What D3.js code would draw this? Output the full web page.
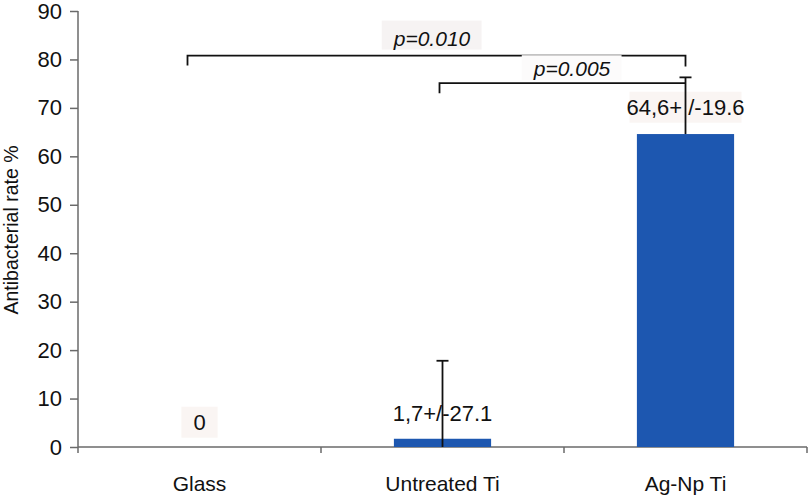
<!DOCTYPE html>
<html>
<head>
<meta charset="utf-8">
<script src="https://cdnjs.cloudflare.com/ajax/libs/d3/7.8.5/d3.min.js"></script>
<style>
  body { margin: 0; background: #fff; }
  text { font-family: "Liberation Sans", Arial, sans-serif; fill: #111; }
</style>
</head>
<body>
<svg id="chart" width="810" height="499"></svg>
<script>
// data
var categories = ["Glass", "Untreated Ti", "Ag-Np Ti"];
var values = [0, 1.7, 64.6];
var errDrawn = [0, 16.1, 11.7];           // upper whisker as drawn
var valueLabels = ["0", "1,7+/-27.1", "64,6+ /-19.6"];
var yTicks = [0, 10, 20, 30, 40, 50, 60, 70, 80, 90];
// significance brackets
var brackets = [
  {from: "Glass", to: "Ag-Np Ti", p: "p=0.010", level: 80.8},
  {from: "Untreated Ti", to: "Ag-Np Ti", p: "p=0.005", level: 75.1}
];

var svg = d3.select("#chart");
var margin = {top: 11, right: 3, bottom: 52, left: 78};
var width = +svg.attr("width") - margin.left - margin.right;
var height = +svg.attr("height") - margin.top - margin.bottom;

var x = d3.scaleBand().domain(categories).range([0, width]).paddingInner(0.6).paddingOuter(0.3);
var y = d3.scaleLinear().domain([0, 90]).range([height, 0]);
var cx = function(c) { return x(c) + x.bandwidth() / 2; };

var g = svg.append("g")
  .attr("transform", "translate(" + margin.left + "," + margin.top + ")");

var axisColor = "#6a6a6a";

// y axis
var yAxis = g.append("g").call(d3.axisLeft(y).tickValues(yTicks).tickSize(8).tickPadding(8));
yAxis.select(".domain").remove();
yAxis.selectAll(".tick line").attr("stroke", axisColor).attr("stroke-width", 1.5);
yAxis.selectAll(".tick text").style("font-size", "22px").attr("fill", "#111");
g.append("line")
  .attr("x1", 0).attr("x2", 0).attr("y1", y(90)).attr("y2", height + 6)
  .attr("stroke", axisColor).attr("stroke-width", 1.5);

// x axis, with ticks at category boundaries
g.append("line")
  .attr("x1", 0).attr("x2", width).attr("y1", height).attr("y2", height)
  .attr("stroke", axisColor).attr("stroke-width", 1.5);
var bandEnd = function(d) { return x(d) - x.step() * x.paddingOuter() + x.step(); };
g.selectAll(".xtick")
  .data(categories)
  .enter().append("line")
  .attr("class", "xtick")
  .attr("x1", bandEnd).attr("x2", bandEnd)
  .attr("y1", height).attr("y2", height + 6)
  .attr("stroke", axisColor).attr("stroke-width", 1.5);
g.selectAll(".cat")
  .data(categories)
  .enter().append("text")
  .attr("class", "cat")
  .attr("x", cx)
  .attr("y", height + 44)
  .attr("text-anchor", "middle")
  .style("font-size", "21px")
  .text(function(d) { return d; });

// y title
svg.append("text")
  .attr("transform", "translate(18," + 230 + ") rotate(-90)")
  .attr("text-anchor", "middle")
  .style("font-size", "19.5px")
  .text("Antibacterial rate %");

// value labels with light backgrounds
var labelY = [422, 413, 107];
var lbl = g.selectAll(".vlab")
  .data(categories)
  .enter().append("g")
  .attr("class", "vlab");
lbl.append("text")
  .attr("x", cx)
  .attr("y", function(d, i) { return labelY[i] - margin.top; })
  .attr("dy", "0.35em")
  .attr("text-anchor", "middle")
  .style("font-size", "22px")
  .text(function(d, i) { return valueLabels[i]; });
lbl.each(function(d, i) {
  if (i === 1) return;
  var sel = d3.select(this);
  var b = sel.select("text").node().getBBox();
  var px = i === 0 ? 12 : -3;
  sel.insert("rect", "text")
    .attr("x", b.x - px).attr("y", b.y - 3)
    .attr("width", b.width + 2 * px).attr("height", b.height + 6)
    .attr("fill", "#faf5f3");
});

// bars
g.selectAll(".bar")
  .data(categories)
  .enter().append("rect")
  .attr("class", "bar")
  .attr("x", function(d) { return x(d); })
  .attr("width", x.bandwidth())
  .attr("y", function(d, i) { return y(values[i]); })
  .attr("height", function(d, i) { return height - y(values[i]); })
  .attr("fill", "#1d57b0");

// error bars (upper only)
var errCats = categories.filter(function(d, i) { return errDrawn[i] > 0; });
var errTop = function(d) { var i = categories.indexOf(d); return y(values[i] + errDrawn[i]); };
var err = g.selectAll(".err")
  .data(errCats)
  .enter().append("g")
  .attr("class", "err");
err.append("line")
  .attr("x1", cx).attr("x2", cx)
  .attr("y1", function(d) { return d === "Untreated Ti" ? height : y(values[categories.indexOf(d)]); })
  .attr("y2", errTop)
  .attr("stroke", "#111").attr("stroke-width", 1.8);
err.append("line")
  .attr("x1", function(d) { return cx(d) - 6; })
  .attr("x2", function(d) { return cx(d) + 6; })
  .attr("y1", errTop).attr("y2", errTop)
  .attr("stroke", "#111").attr("stroke-width", 1.8);

// significance brackets
var labelX = [354, 494];
var leftShift = [12, 3];
var textGap = [10, 7];
brackets.forEach(function(b, k) {
  var x1 = cx(b.from) - leftShift[k], x2 = cx(b.to), yy = y(b.level);
  var path = "M" + x1 + "," + (yy + 10) + "V" + yy + "H" + x2;
  if (k === 0) path += "V" + (yy + 11);
  var t = g.append("text")
    .attr("x", labelX[k])
    .attr("y", yy - textGap[k])
    .attr("text-anchor", "middle")
    .style("font-size", "21px")
    .style("font-style", "italic")
    .text(b.p);
  var bb = t.node().getBBox();
  g.insert("rect", function() { return t.node(); })
    .attr("x", bb.x - 11).attr("y", k === 0 ? bb.y - 6 : bb.y - 2)
    .attr("width", bb.width + 22).attr("height", bb.height + (k === 0 ? 6 : 2))
    .attr("fill", k === 0 ? "#f6f3f3" : "#fcfbfb");
  g.append("path").attr("d", path)
    .attr("fill", "none").attr("stroke", "#111").attr("stroke-width", 1.8);
});
</script>
</body>
</html>
